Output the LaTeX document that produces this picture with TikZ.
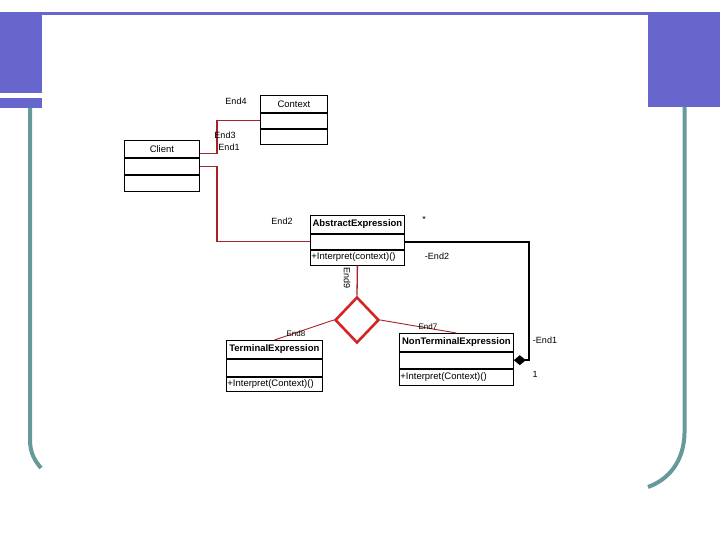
\documentclass[tikz,border=0pt]{standalone}
\usepackage{fontspec}
\setmainfont{Liberation Sans}
\usetikzlibrary{arrows.meta,positioning,shapes.geometric}
\definecolor{frame}{HTML}{6666CC}
\definecolor{rail}{HTML}{669999}
\definecolor{linkred}{HTML}{A8202A}
\definecolor{genred}{HTML}{D42424}
\tikzset{x=1pt,y=-1pt,
  every node/.style={font=\fontsize{9}{10}\selectfont},
  box/.style={draw=black,line width=.8pt,inner xsep=1pt,inner ysep=0pt,text width=#1,align=center,
    font=\fontsize{9.5}{10}\selectfont},
  ops/.style={box=#1,align=left},
  assoc/.style={draw=linkred,line width=1.3pt},
  comp/.style={draw=black,line width=1.6pt,-{Diamond[length=12pt,width=10pt]}},
  gen/.style={diamond,draw=genred,line width=2.6pt,inner sep=0pt,minimum width=44pt,minimum height=46pt},
  tag/.style={inner sep=0pt}}

\begin{document}
\begin{tikzpicture}
\useasboundingbox(0,0)rectangle(720,540);
% slide frame
\fill[frame](42,12)rectangle(692,15);
\fill[frame](0,12)rectangle(42,93);
\fill[frame](0,98)rectangle(42,108);
\fill[frame](648,12)rectangle(720,107);
\draw[rail,line width=4pt](30,108)--(30,440)..controls(30,453)and(35,461)..(41,468);
\draw[rail,line width=4pt](684.5,107)--(684.5,433)..controls(684,460)and(670,479)..(648,487);
% classes
\node[box=65pt,anchor=north west,minimum height=17pt](ctxT)at(260,95){Context};
\node[box=65pt,minimum height=15pt,below=0pt of ctxT](ctxA){};
\node[box=65pt,minimum height=15pt,below=0pt of ctxA](ctxM){};
\node[box=73pt,anchor=north west,minimum height=17pt](cliT)at(124,140){Client};
\node[box=73pt,minimum height=16pt,below=0pt of cliT](cliA){};
\node[box=73pt,minimum height=16pt,below=0pt of cliA](cliM){};
\node[box=92pt,anchor=north west,minimum height=18pt,font=\fontsize{9.5}{10}\selectfont\bfseries](aeT)at(310,215){AbstractExpression};
\node[box=92pt,minimum height=15pt,below=0pt of aeT](aeA){};
\node[ops=92pt,minimum height=15pt,below=0pt of aeA](aeM){+Interpret(context)()};
\node[box=94pt,anchor=north west,minimum height=18pt,font=\fontsize{9.5}{10}\selectfont\bfseries](teT)at(226,340){TerminalExpression};
\node[box=94pt,minimum height=17pt,below=0pt of teT](teA){};
\node[ops=94pt,minimum height=14pt,below=0pt of teA](teM){+Interpret(Context)()};
\node[box=112pt,anchor=north west,minimum height=18pt,font=\fontsize{9.5}{10}\selectfont\bfseries](ntT)at(399,333){NonTerminalExpression};
\node[box=112pt,minimum height=16pt,below=0pt of ntT](ntA){};
\node[ops=112pt,minimum height=16pt,below=0pt of ntA](ntM){+Interpret(Context)()};
\node[gen](genD)at(357,320){};
% connectors
\coordinate(bendL)at(217,0);
\coordinate(bendR)at(529,0);
\coordinate(cliOut)at([yshift=4pt]cliT.south east);
\draw[assoc](cliOut)--(cliOut-|bendL)|-(ctxA.west);
\draw[assoc](cliA.east)--(cliA.east-|bendL)|-(aeA.west);
\draw[comp](aeA.east)--(aeA.east-|bendR)|-(ntA.east);
\draw[assoc](aeM.south)--(genD.north);
\draw[linkred,line width=.9pt](genD.west)--(teT.north);
\draw[linkred,line width=.9pt](genD.east)--(ntT.north);
% end labels
\node[tag](lEnd4)at(236,101){End4};
\node[tag](lEnd3)at(225,135){End3};
\node[tag](lEnd1)at(229,147){End1};
\node[tag](lEnd2)at(282,221){End2};
\node[tag](lStar)at(424,219){*};
\node[tag](lMEnd2)at(437,256){-End2};
\node[tag,rotate=-90](lEnd9)at(347,278){End9};
\node[tag](lMEnd1)at(545,340){-End1};
\node[tag](lOne)at(535,374){1};
\node[tag,font=\fontsize{8}{9}\selectfont](lEnd8)at(296,334){End8};
\node[tag,font=\fontsize{8}{9}\selectfont](lEnd7)at(428,327){End7};
\end{tikzpicture}
\end{document}
